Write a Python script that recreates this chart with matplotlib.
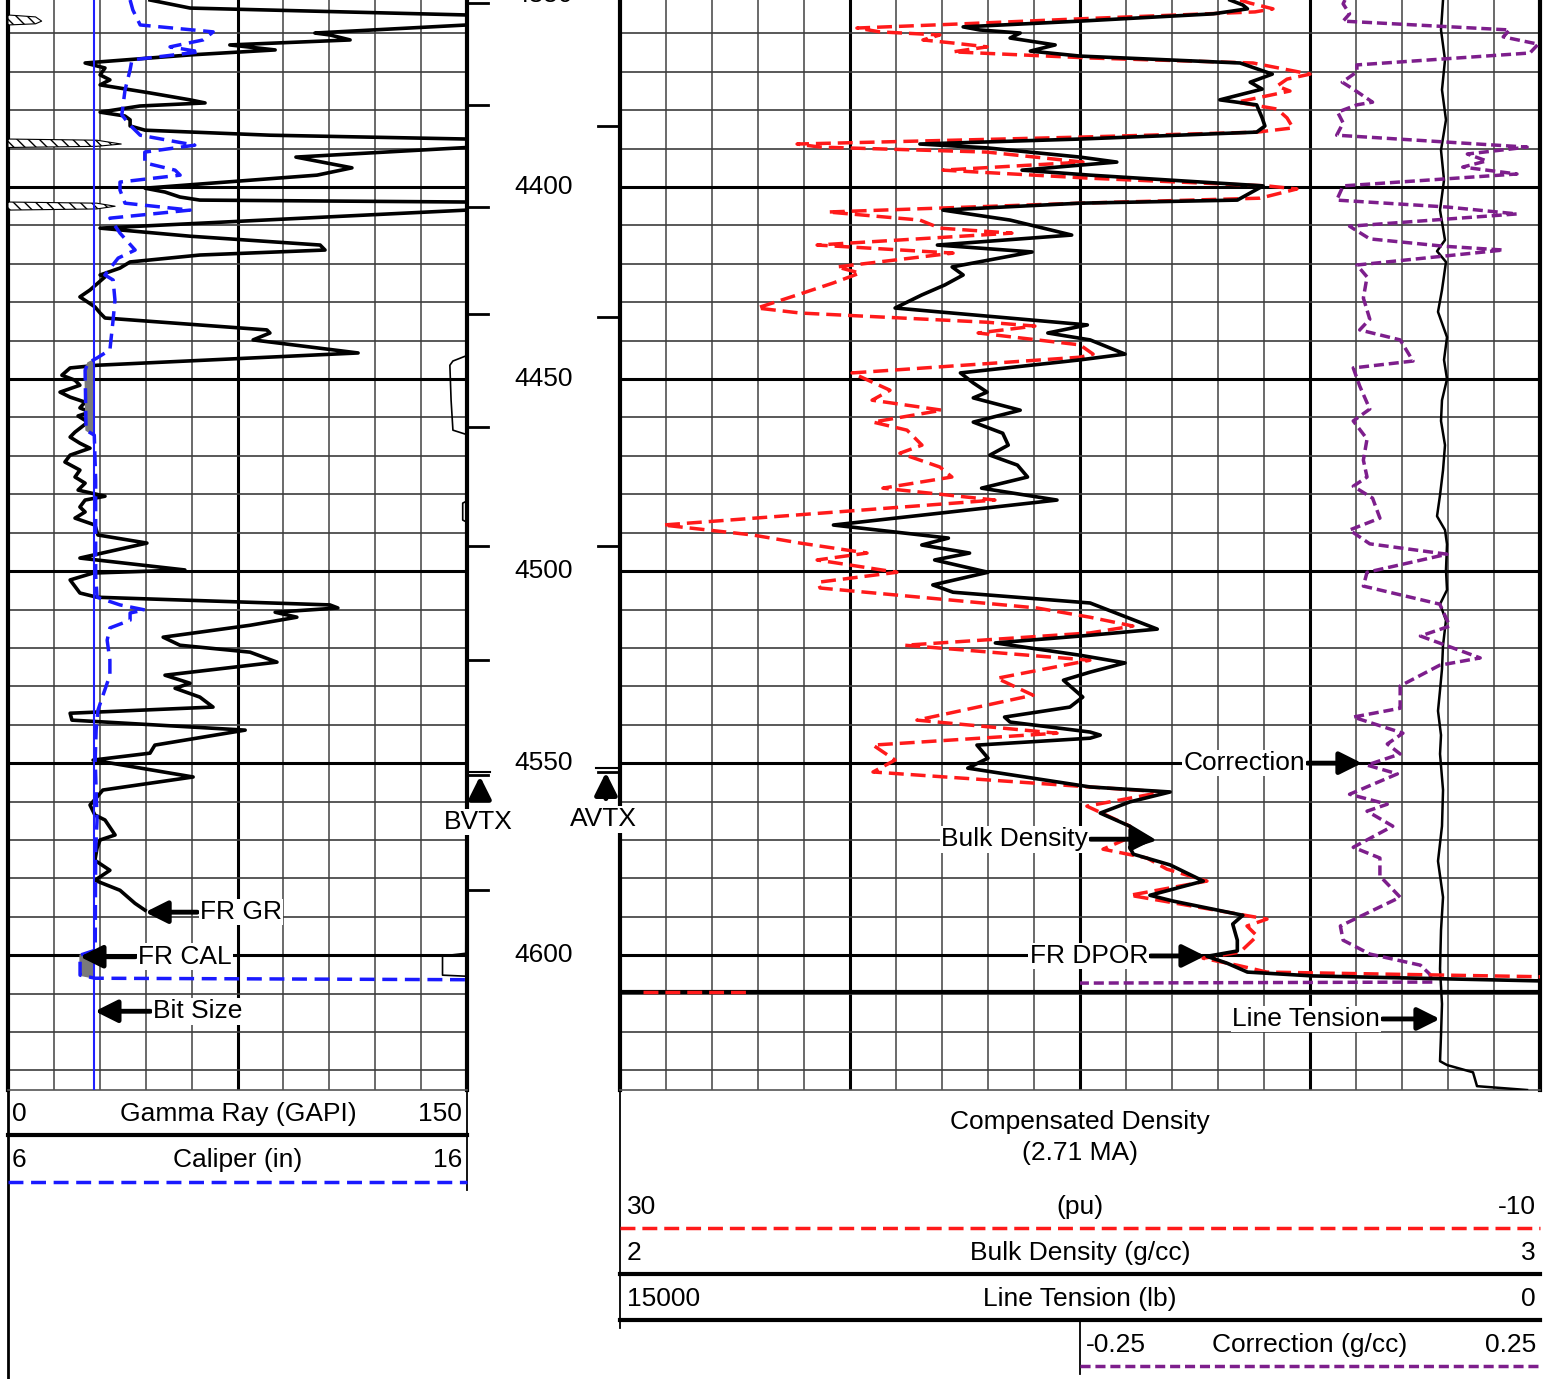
import numpy as np
import matplotlib
matplotlib.use("Agg")
import matplotlib.pyplot as plt

plt.rcParams['font.family'] = ['Liberation Sans', 'DejaVu Sans']
FS = 19

# ---------------- data ----------------
depth_top, depth_bottom = 4351.3, 4635.1

gr_depth = [4351.3, 4353.4, 4355.2, 4355.7, 4356.8, 4357.5, 4357.8, 4359.9, 4360.4, 4361.7,
            4363.0, 4364.3, 4365.6, 4367.7, 4369.0, 4370.8, 4372.1, 4373.4, 4375.5, 4377.3,
            4378.1, 4378.9, 4380.5, 4381.5, 4382.5, 4384.1, 4385.2, 4386.5, 4387.5, 4387.8,
            4388.8, 4389.4, 4389.7, 4392.2, 4395.0, 4396.9, 4400.3, 4401.3, 4402.6, 4403.4,
            4403.9, 4404.2, 4405.0, 4405.7, 4406.0, 4410.7, 4412.8, 4415.1, 4416.4, 4417.7,
            4419.5, 4421.1, 4422.9, 4423.4, 4426.8, 4428.6, 4431.2, 4432.8, 4434.1, 4437.2,
            4438.0, 4439.8, 4443.2, 4446.4, 4447.1, 4449.0, 4450.3, 4451.6, 4453.4, 4454.7,
            4456.0, 4457.5, 4458.6, 4459.6, 4461.2, 4462.8, 4463.8, 4465.1, 4466.7, 4468.0,
            4469.8, 4471.6, 4473.7, 4475.5, 4477.1, 4478.9, 4480.5, 4481.5, 4483.3, 4484.6,
            4486.2, 4488.0, 4490.6, 4492.7, 4496.6, 4499.7, 4500.5, 4502.3, 4505.7, 4506.8,
            4508.8, 4509.6, 4510.7, 4512.0, 4514.1, 4517.2, 4519.3, 4521.1, 4523.7, 4527.1,
            4529.2, 4530.5, 4532.8, 4535.4, 4537.0, 4538.8, 4541.4, 4545.3, 4547.4, 4549.2,
            4553.6, 4557.0, 4558.8, 4560.9, 4563.5, 4564.8, 4568.7, 4570.0, 4572.1, 4575.3,
            4577.9, 4580.5, 4583.1, 4586.5, 4588.3]
gr_api = [46.4, 59.5, 150, 159, 161, 159, 150, 100.3, 105.2, 111.8,
          72.5, 87.3, 59.5, 25.2, 31.7, 30.1, 33.3, 30.1, 46.4, 59.5,
          64.4, 43.1, 30.1, 38.2, 39.9, 39.9, 44.8, 85.6, 150, 179,
          187, 179, 150, 94.1, 112.4, 101.0, 44.8, 51.3, 56.2, 62.7,
          150, 179, 185, 179, 150, 30.1, 59.5, 102.0, 103.6, 62.7,
          39.9, 36.6, 30.1, 31.7, 26.8, 23.5, 28.4, 30.1, 31.7, 84.6,
          85.6, 80.1, 114.4, 29.1, 20.3, 17.6, 21.9, 23.5, 17.0, 20.3,
          25.2, 23.5, 26.8, 22.9, 26.1, 23.5, 21.9, 20.3, 23.5, 26.8,
          20.3, 18.6, 23.5, 21.9, 25.2, 22.9, 31.7, 25.2, 23.5, 25.2,
          21.9, 28.4, 29.4, 45.4, 23.5, 57.8, 27.8, 20.3, 23.5, 29.1,
          105.2, 107.8, 87.3, 94.4, 79.1, 50.7, 56.2, 79.1, 87.9, 51.3,
          59.5, 54.6, 62.7, 67.0, 20.3, 20.9, 77.5, 48.0, 46.4, 27.8,
          60.5, 31.0, 29.1, 26.8, 28.4, 31.7, 35.0, 30.1, 29.1, 28.4,
          33.3, 28.4, 36.6, 41.5, 44.8]

cal_depth = [4351.3, 4353.9, 4357.8, 4359.6, 4361.7, 4363.5, 4364.8, 4366.9, 4369.5, 4374.7,
             4381.2, 4383.9, 4386.5, 4389.1, 4390.9, 4393.7, 4395.6, 4396.9, 4398.7, 4400.8,
             4404.2, 4406.0, 4408.1, 4412.0, 4416.4, 4418.5, 4422.9, 4424.2, 4429.4, 4434.6,
             4442.4, 4444.5, 4445.8, 4447.7, 4463.3, 4464.6, 4476.3, 4501.0, 4506.8, 4508.8,
             4510.1, 4510.9, 4512.8, 4514.8, 4518.0, 4523.2, 4527.1, 4532.3, 4536.2, 4541.4,
             4549.2, 4564.8, 4572.6, 4598.7, 4600.0, 4605.2, 4606.0, 4606.4]
cal_in = [8.66, 8.72, 8.88, 10.47, 10.25, 9.53, 10.18, 8.70, 8.66, 8.55,
          8.48, 8.66, 8.88, 10.07, 8.98, 8.98, 9.64, 9.75, 8.44, 8.44,
          8.55, 9.97, 8.22, 8.44, 8.77, 8.40, 8.11, 8.29, 8.33, 8.29,
          8.22, 7.94, 7.74, 7.68, 7.70, 7.88, 7.91, 7.91, 7.94, 8.44,
          8.98, 8.66, 8.66, 8.22, 8.16, 8.22, 8.22, 8.07, 7.96, 7.92,
          7.90, 7.94, 7.91, 7.90, 7.57, 7.57, 7.90, 16.3]
bit_size = 7.875

aux_depth = [4443.7, 4445.3, 4446.4, 4455.5, 4463.3, 4464.6, np.nan,
             4481.5, 4482.3, 4486.7, 4487.5, np.nan,
             4568.0, 4570.8, 4599.5, 4600.2, 4605.2, 4605.5]
aux_val = [150.5, 145.4, 144.4, 144.8, 145.4, 150.5, np.nan,
           150.5, 148.6, 148.6, 150.5, np.nan,
           150.5, 149.7, 149.6, 142.0, 142.0, 150.5]

rhob_depth = [4351.3, 4352.6, 4353.6, 4354.9, 4356.8, 4358.3, 4359.1, 4359.9, 4361.2, 4363.0,
              4364.6, 4365.9, 4367.7, 4370.6, 4372.7, 4374.5, 4377.3, 4378.6, 4382.0, 4384.1,
              4385.7, 4387.5, 4388.8, 4389.8, 4392.2, 4393.5, 4394.3, 4395.6, 4396.9, 4399.7,
              4403.4, 4404.2, 4406.0, 4408.6, 4412.5, 4415.1, 4416.9, 4420.8, 4422.9, 4425.5,
              4428.1, 4431.5, 4435.9, 4438.0, 4439.8, 4443.5, 4445.0, 4448.4, 4451.0, 4453.4,
              4454.9, 4458.1, 4461.2, 4464.1, 4467.2, 4469.8, 4472.4, 4475.5, 4478.4, 4481.5,
              4488.0, 4491.4, 4493.2, 4495.3, 4497.1, 4500.3, 4503.6, 4505.5, 4508.3, 4515.1,
              4516.7, 4518.7, 4521.9, 4523.9, 4526.3, 4528.4, 4532.8, 4535.4, 4538.0, 4539.3,
              4541.9, 4542.7, 4543.5, 4545.3, 4548.7, 4551.3, 4556.2, 4557.5, 4560.1, 4563.0,
              4566.4, 4570.0, 4571.9, 4573.7, 4576.5, 4580.7, 4584.4, 4585.9, 4589.6, 4591.9,
              4596.1, 4598.9, 4600.3, 4602.1, 4604.4, 4605.4, 4606.8]
rhob = [2.663, 2.677, 2.682, 2.645, 2.500, 2.373, 2.391, 2.435, 2.424, 2.473,
        2.446, 2.500, 2.674, 2.709, 2.685, 2.698, 2.652, 2.692, 2.698, 2.701,
        2.692, 2.500, 2.326, 2.399, 2.500, 2.540, 2.500, 2.437, 2.511, 2.699,
        2.671, 2.500, 2.351, 2.424, 2.491, 2.345, 2.448, 2.361, 2.373, 2.353,
        2.328, 2.299, 2.508, 2.465, 2.511, 2.549, 2.500, 2.370, 2.384, 2.399,
        2.384, 2.435, 2.384, 2.416, 2.422, 2.402, 2.432, 2.443, 2.393, 2.475,
        2.232, 2.357, 2.328, 2.380, 2.342, 2.400, 2.340, 2.362, 2.511, 2.584,
        2.511, 2.408, 2.500, 2.549, 2.511, 2.482, 2.503, 2.489, 2.418, 2.424,
        2.511, 2.522, 2.511, 2.388, 2.400, 2.378, 2.511, 2.598, 2.554, 2.522,
        2.554, 2.579, 2.554, 2.558, 2.598, 2.634, 2.576, 2.601, 2.677, 2.666,
        2.671, 2.671, 2.638, 2.660, 2.682, 2.753, 3.020]

dpor_depth = [4351.3, 4352.1, 4353.6, 4354.4, 4356.2, 4357.5, 4358.6, 4359.6, 4360.4, 4361.7,
              4362.5, 4363.5, 4364.8, 4366.4, 4367.7, 4370.6, 4371.9, 4373.7, 4375.0, 4377.9,
              4379.7, 4382.0, 4384.6, 4385.7, 4387.0, 4388.8, 4389.6, 4390.9, 4393.5, 4395.6,
              4397.7, 4399.7, 4400.5, 4402.9, 4404.2, 4406.5, 4408.6, 4410.7, 4412.0, 4415.1,
              4417.2, 4420.8, 4422.4, 4425.0, 4428.1, 4431.5, 4432.8, 4435.2, 4436.2, 4438.0,
              4441.1, 4443.5, 4444.3, 4448.4, 4452.9, 4455.5, 4458.1, 4461.2, 4463.3, 4467.2,
              4469.3, 4472.9, 4475.5, 4478.4, 4481.5, 4488.0, 4490.6, 4492.7, 4495.3, 4497.1,
              4500.3, 4502.9, 4504.4, 4509.6, 4512.0, 4514.3, 4516.1, 4519.3, 4523.2, 4527.9,
              4532.3, 4538.8, 4542.2, 4545.3, 4549.2, 4552.3, 4556.2, 4557.5, 4561.2, 4566.4,
              4569.0, 4572.4, 4574.7, 4577.6, 4580.7, 4584.4, 4590.6, 4592.4, 4595.0, 4599.2,
              4600.8, 4602.6, 4604.4, 4605.7]
dpor = [3.04, 2.61, 1.61, 2.39, 10.0, 15.09, 19.70, 18.70, 16.09, 16.83,
        15.52, 14.04, 15.52, 9.57, 2.48, 0.0, 1.0, 1.43, 0.87, 3.17,
        1.43, 1.0, 0.74, 2.30, 10.0, 22.30, 21.30, 14.04, 9.87, 15.96,
        9.57, 1.87, 0.57, 2.17, 10.0, 20.96, 16.96, 16.09, 12.96, 21.43,
        15.52, 20.57, 19.57, 20.74, 22.30, 24.04, 22.17, 14.04, 11.96, 14.43,
        10.0, 9.43, 10.0, 19.91, 18.26, 19.04, 16.0, 19.0, 17.52, 16.87,
        17.83, 16.09, 15.57, 18.57, 13.70, 28.13, 24.22, 22.17, 19.26, 21.43,
        17.96, 21.39, 21.30, 11.87, 9.57, 7.70, 9.57, 17.61, 9.57, 13.61,
        12.04, 17.09, 11.0, 19.0, 18.04, 19.0, 9.57, 6.39, 9.70, 7.83,
        7.70, 9.0, 7.09, 6.22, 4.48, 7.83, 1.87, 2.74, 2.30, 3.04,
        4.65, 3.17, 1.87, -10.9]
dpor_tail_depth = [4609.5, 4609.5]
dpor_tail = [29.0, 24.5]

corr_depth = [4351.3, 4352.3, 4354.9, 4356.8, 4359.1, 4360.9, 4362.8, 4365.1, 4368.2, 4370.0,
              4372.7, 4374.5, 4377.9, 4378.6, 4380.5, 4383.3, 4386.5, 4388.3, 4389.6, 4391.4,
              4393.2, 4394.8, 4396.6, 4399.7, 4403.4, 4405.2, 4407.0, 4410.2, 4413.5, 4415.4,
              4416.4, 4420.3, 4423.4, 4428.9, 4434.4, 4437.2, 4439.8, 4445.3, 4447.1, 4451.8,
              4457.8, 4460.9, 4465.6, 4471.1, 4475.5, 4477.9, 4481.0, 4486.2, 4489.3, 4492.9,
              4495.6, 4500.3, 4503.9, 4508.6, 4514.3, 4516.9, 4522.6, 4524.5, 4529.9, 4535.7,
              4538.0, 4542.2, 4545.0, 4547.6, 4550.5, 4552.8, 4558.1, 4560.7, 4562.5, 4566.4,
              4571.9, 4574.7, 4579.4, 4584.9, 4592.4, 4596.1, 4599.7, 4602.6, 4604.9, 4607.0,
              4607.3]
corr = [0.038, 0.036, 0.043, 0.036, 0.217, 0.210, 0.248, 0.239, 0.051, 0.051,
        0.035, 0.047, 0.068, 0.051, 0.030, 0.036, 0.029, 0.149, 0.236, 0.171,
        0.192, 0.166, 0.225, 0.036, 0.029, 0.149, 0.225, 0.043, 0.065, 0.145,
        0.210, 0.051, 0.062, 0.058, 0.065, 0.054, 0.098, 0.112, 0.047, 0.054,
        0.065, 0.047, 0.062, 0.058, 0.062, 0.047, 0.068, 0.076, 0.043, 0.065,
        0.149, 0.062, 0.058, 0.141, 0.152, 0.120, 0.185, 0.141, 0.098, 0.098,
        0.047, 0.101, 0.084, 0.098, 0.062, 0.095, 0.043, 0.084, 0.062, 0.090,
        0.047, 0.076, 0.076, 0.098, 0.033, 0.036, 0.065, 0.120, 0.130, 0.133,
        -0.30]

tens_depth = [4351.3, 4359.1, 4366.9, 4374.7, 4382.5, 4390.4, 4398.2, 4406.0, 4413.8, 4416.7,
              4419.5, 4426.8, 4432.5, 4439.1, 4445.0, 4450.0, 4455.5, 4460.9, 4467.2, 4473.7,
              4480.2, 4485.7, 4489.3, 4493.0, 4499.7, 4504.9, 4508.6, 4512.8, 4519.3, 4525.5,
              4531.0, 4536.4, 4542.7, 4547.6, 4557.0, 4566.4, 4575.5, 4584.9, 4593.5, 4603.6,
              4612.7, 4620.8, 4627.6, 4628.6, 4630.5, 4634.1, 4635.1]
tension = [1581, 1614, 1549, 1598, 1533, 1614, 1565, 1630, 1549, 1679,
           1533, 1598, 1663, 1516, 1565, 1516, 1598, 1614, 1549, 1581,
           1630, 1679, 1549, 1516, 1533, 1516, 1630, 1533, 1581, 1598,
           1630, 1663, 1614, 1630, 1581, 1598, 1663, 1581, 1614, 1630,
           1598, 1614, 1630, 1516, 1092, 1027, 212]

depth_labels = [4350, 4400, 4450, 4500, 4550, 4600]
time_marks_left = [4352.2, 4378.6, 4405.2, 4433.1, 4462.5, 4493.5, 4523.2, 4553.1, 4583.1]
time_marks_right = [4384.1, 4433.8, 4493.5, 4552.3]
td_line_depth = 4609.6

# ---------------- figure ----------------
W, H = 1554, 1379
fig = plt.figure(figsize=(W / 100, H / 100), dpi=100)
TB = 1090  # bottom of the tracks in pixels

BLUE = '#1a1aff'
RED = '#ff1a1a'
PURPLE = '#7d1e8c'
MINOR = '#5e5e5e'
LW_CURVE = 2.6


def add_px_axes(x0, x1, y0=0, y1=TB):
    return fig.add_axes([x0 / W, 1 - y1 / H, (x1 - x0) / W, (y1 - y0) / H])


def overlay(x0, x1, xlim):
    a = add_px_axes(x0, x1)
    a.set_xlim(*xlim)
    a.set_ylim(depth_bottom, depth_top)
    a.axis('off')
    return a


def style_track(ax):
    ax.set_ylim(depth_bottom, depth_top)
    ax.set_xticks([])
    ax.set_yticks([])
    for s in ['left', 'right']:
        ax.spines[s].set_linewidth(3)
    ax.spines['top'].set_visible(False)
    ax.spines['bottom'].set_linewidth(1.2)
    ax.spines['bottom'].set_color('#555555')


def depth_grid(ax):
    for dd in np.arange(4360, 4640, 10):
        if dd % 50 == 0:
            ax.axhline(dd, color='k', lw=2.2, zorder=1)
        else:
            ax.axhline(dd, color='#3c3c3c', lw=1.2, zorder=1)


arrow_kw = dict(arrowstyle='-|>,head_length=0.9,head_width=0.45', lw=3.5, color='k',
                shrinkA=1, shrinkB=0, mutation_scale=15)
box_kw = dict(boxstyle='square,pad=0.05', fc='white', ec='none')

# ---- left track: Gamma Ray ----
ax_l = add_px_axes(8, 467)
ax_l.set_xlim(0, 150)
style_track(ax_l)
for g in np.arange(15, 150, 15):
    if g == 75:
        ax_l.axvline(g, color='k', lw=2.2, zorder=1)
    else:
        ax_l.axvline(g, color=MINOR, lw=1.3, zorder=1)
depth_grid(ax_l)
gr_arr = np.array(gr_api)
backup = np.clip(gr_arr - 150, 0, None)
ax_l.fill_betweenx(gr_depth, 0, backup, facecolor='white', edgecolor='k',
                   hatch='\\\\\\', lw=0.8, zorder=3)
ax_l.plot(gr_arr, gr_depth, color='k', lw=LW_CURVE, zorder=5)
ax_l.plot(aux_val, aux_depth, color='k', lw=1.2, zorder=4)

# ---- caliper overlay ----
ax_c = overlay(8, 467, (6, 16))
cal_arr = np.array(cal_in)
ax_c.fill_betweenx(cal_depth, cal_arr, bit_size, where=cal_arr < bit_size,
                   interpolate=True, color='#7a7a7a', zorder=2)
ax_c.axvline(bit_size, color='#2020ff', lw=1.5, zorder=3)
ax_c.plot(cal_arr, cal_depth, color=BLUE, lw=2.5, dashes=(4.3, 2.2), zorder=4)

# ---- left annotations ----
ax_la = overlay(8, 467, (0, 150))
ax_la.annotate('FR GR', xy=(44.8, 4588.8), xytext=(62.7, 4588.8), ha='left', va='center',
               fontsize=FS, bbox=box_kw, arrowprops=arrow_kw, zorder=10)
ax_la.annotate('FR CAL', xy=(23.5, 4600.4), xytext=(42.5, 4600.4), ha='left', va='center',
               fontsize=FS, bbox=box_kw, arrowprops=arrow_kw, zorder=10)
ax_la.annotate('Bit Size', xy=(28.4, 4614.6), xytext=(47.4, 4614.6), ha='left', va='center',
               fontsize=FS, bbox=box_kw, arrowprops=arrow_kw, zorder=10)

# ---- right track: grid on bulk density scale ----
ax_r = add_px_axes(620, 1540)
ax_r.set_xlim(2, 3)
style_track(ax_r)
for k in range(1, 20):
    v = 2 + 0.05 * k
    if k % 5 == 0:
        ax_r.axvline(v, color='k', lw=2.2, zorder=1)
    else:
        ax_r.axvline(v, color=MINOR, lw=1.3, zorder=1)
depth_grid(ax_r)
ax_r.axhline(td_line_depth, color='k', lw=3, zorder=2)

ax_t = overlay(620, 1540, (15000, 0))
ax_t.plot(tension, tens_depth, color='k', lw=1.8, zorder=3)

ax_cr = overlay(1080, 1540, (-0.25, 0.25))
ax_cr.plot(corr, corr_depth, color=PURPLE, lw=2.5, dashes=(2.9, 1.4), zorder=3)

ax_dp = overlay(620, 1540, (30, -10))
ax_dp.plot(dpor, dpor_depth, color=RED, lw=2.5, dashes=(4.3, 2.0), zorder=3)
ax_dp.plot(dpor_tail, dpor_tail_depth, color=RED, lw=2.5, dashes=(4.3, 2.0), zorder=3)

ax_rb = overlay(620, 1540, (2, 3))
ax_rb.plot(rhob, rhob_depth, color='k', lw=LW_CURVE, zorder=4)
for label, tip, tx, dep in [('Correction', 2.8065, 2.7446, 4550.0),
                            ('Bulk Density', 2.5815, 2.5087, 4569.8),
                            ('FR DPOR', 2.6359, 2.5739, 4600.2),
                            ('Line Tension', 2.8913, 2.8261, 4616.6)]:
    ax_rb.annotate(label, xy=(tip, dep), xytext=(tx, dep), ha='right', va='center',
                   fontsize=FS, bbox=box_kw, arrowprops=arrow_kw, zorder=10)

# ---- depth track (drawn on top so its labels cover track borders) ----
ax_d = add_px_axes(467, 620)
ax_d.set_zorder(10)
ax_d.set_xlim(0, 1)
ax_d.set_ylim(depth_bottom, depth_top)
ax_d.axis('off')
for dl in depth_labels:
    ax_d.text(0.5, dl, str(dl), ha='center', va='center', fontsize=FS, clip_on=False)
for tm in time_marks_left:
    ax_d.plot([0, 0.137], [tm, tm], color='k', lw=2)
for tm in time_marks_right:
    ax_d.plot([0.856, 1], [tm, tm], color='k', lw=2)
ax_d.plot([0.02, 0.15], [4552.3, 4552.3], color='k', lw=1.5)
ax_d.plot([0.84, 0.99], [4551.3, 4551.3], color='k', lw=1.5)
ax_d.annotate('', xy=(0.085, 4553.4), xytext=(0.085, 4559.6), arrowprops=arrow_kw)
ax_d.annotate('', xy=(0.908, 4552.4), xytext=(0.908, 4559.6), arrowprops=arrow_kw)
ax_d.text(0.072, 4565.3, 'BVTX', ha='center', va='center', fontsize=FS, clip_on=False,
          bbox=box_kw, zorder=10)
ax_d.text(0.895, 4564.6, 'AVTX', ha='center', va='center', fontsize=FS, clip_on=False,
          bbox=box_kw, zorder=10)

# ---- header (pixel coordinates) ----
hx = fig.add_axes([0, 0, 1, 1], zorder=-1)
hx.set_xlim(0, W)
hx.set_ylim(H, 0)
hx.axis('off')

hx.plot([8, 8], [1090, 1379], color='k', lw=2)
hx.plot([467, 467], [1090, 1190], color='k', lw=1.3)
hx.text(12, 1114, '0', ha='left', va='center', fontsize=FS)
hx.text(238, 1114, 'Gamma Ray (GAPI)', ha='center', va='center', fontsize=FS)
hx.text(462, 1114, '150', ha='right', va='center', fontsize=FS)
hx.plot([8, 467], [1135, 1135], color='k', lw=3)
hx.text(12, 1160, '6', ha='left', va='center', fontsize=FS)
hx.text(238, 1160, 'Caliper (in)', ha='center', va='center', fontsize=FS)
hx.text(462, 1160, '16', ha='right', va='center', fontsize=FS)
hx.plot([8, 467], [1182, 1182], color=BLUE, lw=2.5, dashes=(4.3, 2.2))

hx.plot([620, 620], [1090, 1328], color='k', lw=1.3)
hx.text(1080, 1122, 'Compensated Density', ha='center', va='center', fontsize=FS)
hx.text(1080, 1153, '(2.71 MA)', ha='center', va='center', fontsize=FS)
hx.text(627, 1207, '30', ha='left', va='center', fontsize=FS)
hx.text(1080, 1207, '(pu)', ha='center', va='center', fontsize=FS)
hx.text(1536, 1207, '-10', ha='right', va='center', fontsize=FS)
hx.plot([620, 1540], [1228, 1228], color=RED, lw=2.5, dashes=(4.3, 2.0))
hx.text(627, 1253, '2', ha='left', va='center', fontsize=FS)
hx.text(1080, 1253, 'Bulk Density (g/cc)', ha='center', va='center', fontsize=FS)
hx.text(1536, 1253, '3', ha='right', va='center', fontsize=FS)
hx.plot([620, 1540], [1274, 1274], color='k', lw=3)
hx.text(627, 1299, '15000', ha='left', va='center', fontsize=FS)
hx.text(1080, 1299, 'Line Tension (lb)', ha='center', va='center', fontsize=FS)
hx.text(1536, 1299, '0', ha='right', va='center', fontsize=FS)
hx.plot([620, 1540], [1320, 1320], color='k', lw=3)
hx.plot([1080, 1080], [1322, 1374], color='k', lw=1.3)
hx.text(1086, 1345, '-0.25', ha='left', va='center', fontsize=FS)
hx.text(1310, 1345, 'Correction (g/cc)', ha='center', va='center', fontsize=FS)
hx.text(1536, 1345, '0.25', ha='right', va='center', fontsize=FS)
hx.plot([1080, 1540], [1366, 1366], color=PURPLE, lw=2.5, dashes=(2.9, 1.4))

fig.savefig('out.png', dpi=100)
